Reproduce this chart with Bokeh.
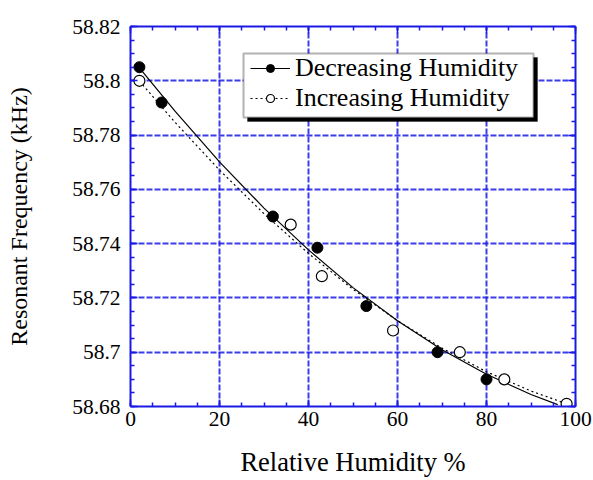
from bokeh.plotting import figure
from bokeh.models import (Legend, LegendItem, LinearAxis, FixedTicker, Range1d,
                          BoxAnnotation, CustomJSTickFormatter)
from bokeh.embed import file_html
from bokeh.resources import INLINE

# ---- data ----
rh_dec = [2, 7, 32, 42, 53, 69, 80]
freq_dec = [58.805, 58.792, 58.750, 58.7385, 58.717, 58.700, 58.690]
rh_inc = [2, 36, 43, 59, 74, 84, 98]
freq_inc = [58.800, 58.747, 58.728, 58.708, 58.700, 58.690, 58.681]

fit_dec_x = [2, 10, 20, 30, 40, 50, 60, 70, 80, 90, 96]
fit_dec_y = [58.8048, 58.7888, 58.7701, 58.7531, 58.7377, 58.7238, 58.7116,
             58.7009, 58.6919, 58.6844, 58.6807]
fit_inc_x = [2, 10, 20, 30, 40, 50, 60, 70, 80, 90, 98]
fit_inc_y = [58.7999, 58.7847, 58.7671, 58.7510, 58.7364, 58.7232, 58.7116,
             58.7015, 58.6928, 58.6857, 58.6810]

x_ticks = [0, 20, 40, 60, 80, 100]
y_ticks = [58.68, 58.70, 58.72, 58.74, 58.76, 58.78, 58.80, 58.82]
y_tick_labels = ["58.68", "58.7", "58.72", "58.74", "58.76", "58.78", "58.8", "58.82"]
x_minor = [v for v in range(0, 101, 5)]
y_minor = [round(58.68 + 0.005 * i, 3) for i in range(29)]

FONT = "Liberation Serif"
BLUE = "#1a1ae6"

p = figure(width=593, height=480, output_backend="svg", toolbar_location=None,
           x_range=Range1d(0, 100), y_range=Range1d(58.68, 58.82),
           min_border_left=130, min_border_right=18, min_border_top=26,
           min_border_bottom=74, background_fill_color="white",
           border_fill_color="white", outline_line_color=None)

xt = FixedTicker(ticks=x_ticks, minor_ticks=x_minor)
yt = FixedTicker(ticks=y_ticks, minor_ticks=y_minor)
p.xaxis.ticker = xt
p.yaxis.ticker = yt
p.yaxis.major_label_overrides = {t: l for t, l in zip(y_ticks, y_tick_labels)}

for ax in (p.xaxis[0], p.yaxis[0]):
    ax.axis_line_color = BLUE
    ax.axis_line_width = 2
    ax.major_tick_line_color = BLUE
    ax.minor_tick_line_color = BLUE
    ax.major_tick_in = 7
    ax.major_tick_out = 0
    ax.minor_tick_in = 4
    ax.minor_tick_out = 0
    ax.major_tick_line_width = 1.5
    ax.minor_tick_line_width = 1.5
    ax.major_label_text_font = FONT
    ax.major_label_text_font_size = "21.5px"
    ax.major_label_text_color = "black"
    ax.axis_label_text_font = FONT
    ax.axis_label_text_font_style = "normal"
    ax.axis_label_text_color = "black"

p.xaxis.axis_label = "Relative Humidity %"
p.yaxis.axis_label = "Resonant Frequency (kHz)"
p.xaxis.axis_label_text_font_size = "26.5px"
p.yaxis.axis_label_text_font_size = "24px"
p.xaxis.major_label_standoff = 5
p.yaxis.major_label_standoff = 10
p.xaxis.axis_label_standoff = 18
p.yaxis.axis_label_standoff = 37

blank = CustomJSTickFormatter(code="return ''")
top = LinearAxis(ticker=xt, formatter=blank)
right = LinearAxis(ticker=yt, formatter=blank)
for ax in (top, right):
    ax.axis_line_color = BLUE
    ax.axis_line_width = 2
    ax.major_tick_line_color = BLUE
    ax.minor_tick_line_color = BLUE
    ax.major_tick_in = 7
    ax.major_tick_out = 0
    ax.minor_tick_in = 4
    ax.minor_tick_out = 0
    ax.major_tick_line_width = 1.5
    ax.minor_tick_line_width = 1.5
    ax.major_label_standoff = 0
p.add_layout(top, "above")
p.add_layout(right, "right")

for g in (p.xgrid[0], p.ygrid[0]):
    g.grid_line_color = BLUE
    g.grid_line_width = 2
    g.grid_line_dash = "6 2"
    g.grid_line_alpha = 0.85
p.xgrid.ticker = xt
p.ygrid.ticker = yt

l_dec = p.line(fit_dec_x, fit_dec_y, line_color="black", line_width=1.2)
l_inc = p.line(fit_inc_x, fit_inc_y, line_color="black", line_width=1.2,
               line_dash="2 3")

s_dec = p.scatter(rh_dec, freq_dec, size=11, marker="circle",
                  fill_color="black", line_color="black")
s_inc = p.scatter(rh_inc, freq_inc, size=11, marker="circle",
                  fill_color="white", line_color="black", line_width=1.2)

# legend frame: drop shadow + white box (canvas pixels)
shadow = BoxAnnotation(left=247, right=537, top=57, bottom=121,
                       left_units="canvas", right_units="canvas",
                       bottom_units="canvas", top_units="canvas",
                       fill_color="black", fill_alpha=1.0, line_color="black",
                       level="overlay")
box = BoxAnnotation(left=243, right=533, top=53, bottom=117,
                    left_units="canvas", right_units="canvas",
                    bottom_units="canvas", top_units="canvas",
                    fill_color="white", fill_alpha=1.0, line_color="black",
                    line_width=2, level="overlay")
p.add_layout(shadow)
p.add_layout(box)


def make_legend(label, renderers, loc):
    lg = Legend(items=[LegendItem(label=label, renderers=renderers)],
                location=loc, level="overlay")
    lg.label_text_font = FONT
    lg.label_text_font_size = "26px"
    lg.label_text_color = "black"
    lg.glyph_width = 40
    lg.glyph_height = 20
    lg.label_height = 20
    lg.label_standoff = 5
    lg.padding = 0
    lg.spacing = 0
    lg.margin = 0
    lg.border_line_color = None
    lg.background_fill_alpha = 0
    return lg


p.add_layout(make_legend("Decreasing Humidity", [l_dec, s_dec], (120, 323.5)), "center")
p.add_layout(make_legend("Increasing Humidity", [l_inc, s_inc], (120, 293.5)), "center")

open("out.html", "w").write(file_html(p, INLINE))
